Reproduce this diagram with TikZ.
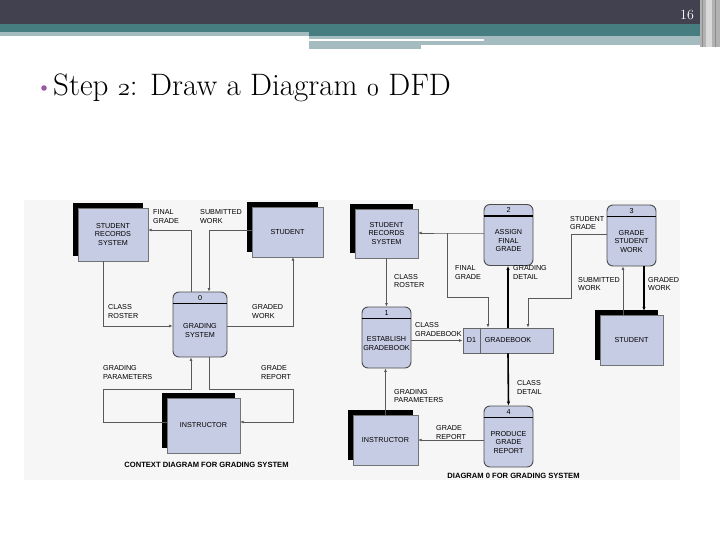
\documentclass[tikz,border=0pt]{standalone}
\usepackage{fontspec}
\newfontfamily\dfdfont{Liberation Sans}
\newcommand{\osnum}[1]{{\usefont{OML}{lmm}{m}{it}#1}}
\usetikzlibrary{arrows.meta,calc,shadows}
\definecolor{bardark}{RGB}{66,65,80}
\definecolor{barteal}{RGB}{69,125,129}
\definecolor{barlight}{RGB}{164,188,191}
\definecolor{boxfill}{RGB}{199,204,229}
\definecolor{dotpurple}{RGB}{150,90,160}
\definecolor{diagbg}{RGB}{246,246,247}

\begin{document}
\begin{tikzpicture}
[
    x=1pt, y=-1pt,
    lbl/.style={font=\dfdfont\fontsize{7.2}{8.5}\selectfont, align=left, inner sep=0pt},   % lbl = flow label
    flowlbl/.style={lbl, anchor=west},
    capt/.style={font=\dfdfont\bfseries\fontsize{7.6}{8.5}\selectfont, inner sep=0pt},
    ent/.style={draw=black!55, fill=boxfill, lbl, align=center,
        general shadow={fill=black, shadow xshift=-5pt, shadow yshift=5pt}},   % ent = external entity
    proc/.style={draw=black!70, fill=boxfill, line width=0.9pt, rounded corners=6pt,
        minimum width=49pt, minimum height=61pt, inner sep=0pt},             % proc = process
    ptxt/.style={lbl, align=center},
    hdr/.style={line width=1.4pt, black},
    flow/.style={draw=black!65, line width=0.8pt, -{Latex[length=3.5pt,width=3pt]}},
    bigflow/.style={draw=black, line width=1.6pt, -{Latex[length=4pt,width=3.5pt]}},
]
\useasboundingbox (0,0) rectangle (720,540);
\fill[white] (0,0) rectangle (720,540);

% slide header
\fill[bardark] (0,0) rectangle (700,24);
\fill[barteal] (0,24) rectangle (700,32);
\fill[barlight] (0,32) rectangle (309,36);
\fill[barteal] (309,32) rectangle (700,36);
\fill[barlight] (309,36) rectangle (700,39);
\fill[barlight] (309,41) rectangle (484,45);
\fill[barlight] (484,39) rectangle (700,45);
\fill[barlight] (309,45) rectangle (421,49);
\fill[black!30] (700,0) rectangle (720,47);
\fill[black!15] (706,0) rectangle (712,47);
\draw[black!45] (702,0) -- (702,47) (715,0) -- (715,47);
\node[white, font=\fontsize{14}{16}\selectfont, inner sep=0pt] (pgnum) at (687,15) {16};

\fill[dotpurple] (44,88) circle (2.8);
\node[anchor=base west, font=\fontsize{31}{36}\selectfont, inner sep=0pt] (title) at (53,96)
    {Step \osnum{2}: Draw a Diagram \osnum{0} DFD};

\fill[diagbg] (24,200) rectangle (680,480);
\begin{scope}
\clip (24,195) rectangle (680,485);

% context diagram
\node[ent, minimum width=70pt, minimum height=53pt] (srs) at (113,234.5) {STUDENT\\RECORDS\\SYSTEM};
\node[ent, minimum width=71pt, minimum height=50pt] (stu) at (287.5,232) {STUDENT};
\node[ent, minimum width=73pt, minimum height=55pt] (ins) at (203.5,425.5) {INSTRUCTOR};
\node[proc, minimum width=54pt, minimum height=65pt] (p0) at (200,324.5) {};

\coordinate (gpl) at (103,389);
\coordinate (grr) at (293,389);

\draw[flow] ([xshift=-9pt]p0.north) |- ([yshift=4.5pt]srs.east);
\draw[flow] ([yshift=2pt]stu.west) -| ([xshift=9pt]p0.north);
\draw[flow] ([xshift=-10pt]srs.south) |- ([yshift=-1.5pt]p0.west);
\draw[flow] ([yshift=-1.5pt]p0.east) -| ([xshift=5.5pt]stu.south);
\draw[flow] ([yshift=3.5pt]ins.west) -| (gpl) -| ([xshift=-9pt]p0.south);
\draw[flow] ([xshift=9pt]p0.south) |- (grr) |- ([yshift=3.5pt]ins.east);

\node[flowlbl] (lfg) at (153,216.5) {FINAL\\GRADE};
\node[flowlbl] (lsw) at (200,216.5) {SUBMITTED\\WORK};
\node[flowlbl] (lcr) at (108,311.5) {CLASS\\ROSTER};
\node[flowlbl] (lgw) at (252,311.5) {GRADED\\WORK};
\node[flowlbl] (lgp) at (103,372.5) {GRADING\\PARAMETERS};
\node[flowlbl] (lgr) at (261,372.5) {GRADE\\REPORT};
\node[capt] (cap1) at (206.5,465) {CONTEXT DIAGRAM FOR GRADING SYSTEM};

% diagram 0
\node[ent, minimum width=63pt, minimum height=49pt] (srs2) at (386.5,233.5) {STUDENT\\RECORDS\\SYSTEM};
\node[ent, minimum width=63pt, minimum height=50pt] (stu2) at (631.5,340) {STUDENT};
\node[ent, minimum width=65pt, minimum height=50pt] (ins2) at (385.5,440) {INSTRUCTOR};
\node[proc] (p1) at (386.5,337.5) {};
\node[proc] (p2) at (508.5,235) {};
\node[proc] (p3) at (631.5,235.5) {};
\node[proc] (p4) at (508.5,436.5) {};
\node[draw=black!60, fill=boxfill, line width=0.9pt, minimum width=90pt, minimum height=25pt] (gb) at (508,340.5) {};
\draw[black!60, line width=0.9pt] ([xshift=18pt]gb.north west) -- ([xshift=18pt]gb.south west);
\node[lbl] (gbid) at ([xshift=9pt]gb.west) {D1};
\node[lbl, anchor=west] (gbname) at ([xshift=22pt]gb.west) {GRADEBOOK};

\foreach \p/\n in {p0/0,p1/1,p2/2,p3/3,p4/4}{
    \draw[hdr] ([yshift=-12pt]\p.north west) -- ([yshift=-12pt]\p.north east);
    \node[lbl] (n\p) at ([yshift=-6pt]\p.north) {\n};
}
\node[ptxt] (tp0) at ($(p0.south)!0.5!([yshift=-12pt]p0.north)$) {GRADING\\SYSTEM};
\node[ptxt] (tp1) at ($(p1.south)!0.5!([yshift=-12pt]p1.north)$) {ESTABLISH\\GRADEBOOK};
\node[ptxt] (tp2) at ($(p2.south)!0.5!([yshift=-12pt]p2.north)$) {ASSIGN\\FINAL\\GRADE};
\node[ptxt] (tp3) at ($(p3.south)!0.5!([yshift=-12pt]p3.north)$) {GRADE\\STUDENT\\WORK};
\node[ptxt] (tp4) at ($(p4.south)!0.5!([yshift=-12pt]p4.north)$) {PRODUCE\\GRADE\\REPORT};

\coordinate (fgj) at (447,233);
\coordinate (sgj) at (571,298);

\draw[flow] ([yshift=2pt]p2.west) -- (fgj) -- (fgj -| srs2.east);
\draw[flow] (fgj) |- ([xshift=-20pt,yshift=30pt]gb.north) -- ([xshift=-20pt]gb.north);
\draw[bigflow] (gb.north) -- (gb.north |- p2.south);
\draw[flow] ([yshift=1.5pt]p3.west) -| (sgj) -| ([xshift=20pt]gb.north);
\draw[flow] (srs2.south) -- (p1.north);
\draw[flow] (p1.east |- gb.west) -- (gb.west);
\draw[bigflow] (gb.south) -- (p4.north);
\draw[flow] (ins2.north) -- (ins2.north |- p1.south);
\draw[flow] (p4.west |- ins2.east) -- (ins2.east);
\draw[flow] ([xshift=-8.5pt]stu2.north) -- ([xshift=-8.5pt]p3.south);
\draw[bigflow] ([xshift=12.5pt]p3.south) -- ([xshift=12.5pt,yshift=4pt]stu2.north);

\node[flowlbl] (lcr2) at (394,281) {CLASS\\ROSTER};
\node[flowlbl] (lfg2) at (455,272.5) {FINAL\\GRADE};
\node[flowlbl] (lgd) at (513,272.5) {GRADING\\DETAIL};
\node[flowlbl] (lsg) at (570,223) {STUDENT\\GRADE};
\node[flowlbl] (lsw2) at (578,284) {SUBMITTED\\WORK};
\node[flowlbl] (lgw2) at (648,284) {GRADED\\WORK};
\node[flowlbl] (lcg) at (415,329.5) {CLASS\\GRADEBOOK};
\node[flowlbl] (lcd) at (517,387.5) {CLASS\\DETAIL};
\node[flowlbl] (lgp2) at (394,396) {GRADING\\PARAMETERS};
\node[flowlbl] (lgr2) at (436,432.5) {GRADE\\REPORT};
\node[capt] (cap2) at (513.5,476) {DIAGRAM 0 FOR GRADING SYSTEM};
\end{scope}
\end{tikzpicture}
\end{document}
